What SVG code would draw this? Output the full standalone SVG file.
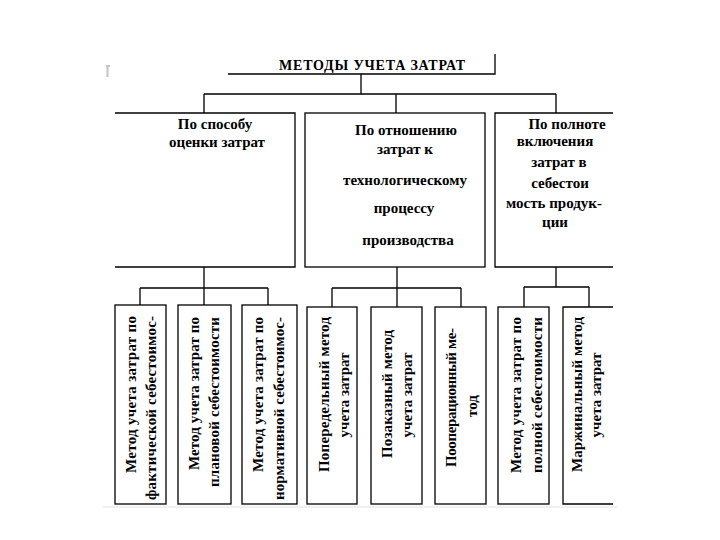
<svg xmlns="http://www.w3.org/2000/svg" width="720" height="540" viewBox="0 0 720 540">
<style>
.ln{stroke:#000;stroke-width:1.3;fill:none}
.bx{stroke:#000;stroke-width:1.3;fill:#fff}
.t{font-family:'Liberation Serif','DejaVu Serif',serif;font-weight:700;font-size:15px;fill:#000;text-anchor:middle}
.ti{font-size:14px}
</style>
<rect width="720" height="540" fill="#fff"/>
<path d="M106,66 h4 M107.5,66 v11" stroke="#c4c4c4" stroke-width="2" fill="none"/>
<line x1="103" y1="507" x2="617" y2="507" stroke="#e2e2e2" stroke-width="1"/>
<g id="connectors" class="ln">
<path d="M361,74 V94 M204,94 H556 M204,94 V113 M396,94 V113 M556,94 V113"/>
<path d="M204,267 V288 M140,288 H268 M140,288 V305 M204,288 V305 M268,288 V305"/>
<path d="M397,267 V288 M332,288 H461 M332,288 V307 M397,288 V307 M461,288 V307"/>
<path d="M556,267 V287 M524,287 H589 M524,287 V307 M589,287 V307"/>
</g>
<g id="title">
<path class="ln" d="M228,74 H495 V54"/>
<text class="t ti" x="372" y="70" textLength="186">МЕТОДЫ УЧЕТА ЗАТРАТ</text>
</g>
<g id="n1">
<path class="ln" d="M115,113 H295 V267 H115"/>
<text class="t" x="215" y="129">По способу</text>
<text class="t" x="217" y="147">оценки затрат</text>
</g>
<g id="n2">
<rect class="bx" x="305" y="113" width="180" height="154"/>
<text class="t" x="406" y="135">По отношению</text>
<text class="t" x="405" y="154">затрат к</text>
<text class="t" x="405" y="185">технологическому</text>
<text class="t" x="404" y="213">процессу</text>
<text class="t" x="408" y="245">производства</text>
</g>
<g id="n3">
<path class="ln" d="M613,113 H495 V267 H613"/>
<text class="t" x="567" y="129">По полноте</text>
<text class="t" x="555" y="146">включения</text>
<text class="t" x="559" y="167">затрат в</text>
<text class="t" x="560" y="188">себестои</text>
<text class="t" x="554" y="208">мость продук-</text>
<text class="t" x="555" y="227">ции</text>
</g>
<g id="a">
<rect class="bx" x="115" y="305" width="51" height="199"/>
<text class="t" transform="translate(136,394.5) rotate(-90)" textLength="157">Метод учета затрат по</text>
<text class="t" transform="translate(156,408) rotate(-90)" textLength="184">фактической себестоимос-</text>
</g>
<g id="b">
<rect class="bx" x="178" y="305" width="53" height="199"/>
<text class="t" transform="translate(199,393.5) rotate(-90)" textLength="153">Метод учета затрат по</text>
<text class="t" transform="translate(219,402) rotate(-90)" textLength="170">плановой себестоимости</text>
</g>
<g id="c">
<rect class="bx" x="242" y="305" width="55" height="199"/>
<text class="t" transform="translate(263,394.5) rotate(-90)" textLength="155">Метод учета затрат по</text>
<text class="t" transform="translate(284,408.5) rotate(-90)" textLength="183">нормативной себестоимос-</text>
</g>
<g id="d">
<rect class="bx" x="307" y="307" width="50" height="197"/>
<text class="t" transform="translate(329,394.5) rotate(-90)" textLength="155">Попередельный метод</text>
<text class="t" transform="translate(349,395) rotate(-90)">учета затрат</text>
</g>
<g id="e">
<rect class="bx" x="371" y="307" width="51" height="197"/>
<text class="t" transform="translate(392,394) rotate(-90)" textLength="128">Позаказный метод</text>
<text class="t" transform="translate(412,395) rotate(-90)">учета затрат</text>
</g>
<g id="f">
<rect class="bx" x="435" y="307" width="51" height="197"/>
<text class="t" transform="translate(456,397.5) rotate(-90)" textLength="139">Пооперационный ме-</text>
<text class="t" transform="translate(477,406) rotate(-90)">тод</text>
</g>
<g id="g">
<rect class="bx" x="498" y="307" width="51" height="197"/>
<text class="t" transform="translate(521,395) rotate(-90)" textLength="156">Метод учета затрат по</text>
<text class="t" transform="translate(542,395) rotate(-90)" textLength="156">полной себестоимости</text>
</g>
<g id="h">
<path class="ln" d="M613,307 H563 V504 H613"/>
<text class="t" transform="translate(582,394.5) rotate(-90)" textLength="155">Маржинальный метод</text>
<text class="t" transform="translate(601,395) rotate(-90)">учета затрат</text>
</g>
</svg>
